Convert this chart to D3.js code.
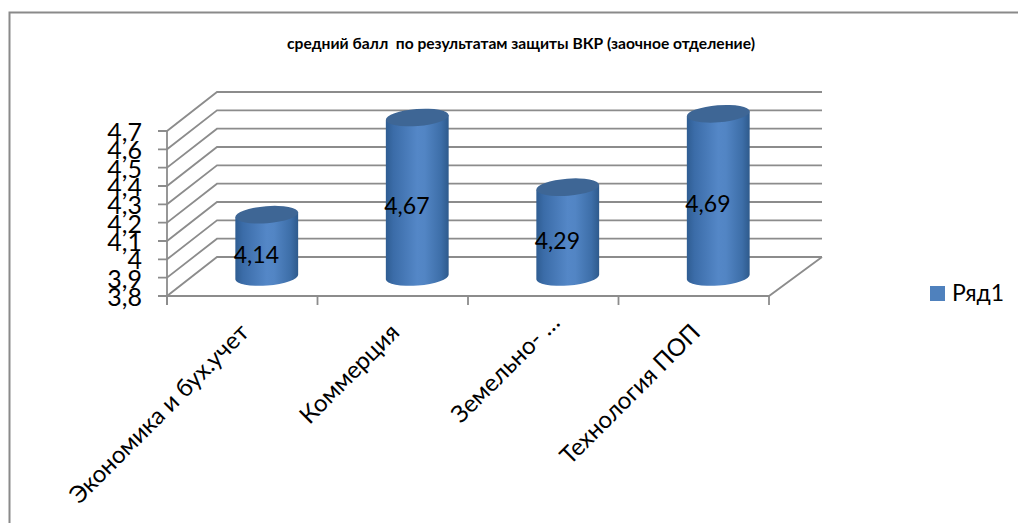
<!DOCTYPE html>
<html><head><meta charset="utf-8">
<script src="https://cdn.jsdelivr.net/npm/d3@7/dist/d3.min.js"></script>
<style>html,body{margin:0;padding:0;background:#fff}svg{display:block}text{font-family:Lato,"Open Sans",sans-serif;fill:#000}</style>
</head><body><div id="c"></div>
<script>
const categories=["Экономика и бух.учет","Коммерция","Земельно- …","Технология ПОП"];
const seriesName="Ряд1";
const values=[4.14,4.67,4.29,4.69];
const valueLabels=["4,14","4,67","4,29","4,69"];
const yTicks=[3.8,3.9,4,4.1,4.2,4.3,4.4,4.5,4.6,4.7];
const yTickLabels=["3,8","3,9","4","4,1","4,2","4,3","4,4","4,5","4,6","4,7"];
const titleText="средний балл  по результатам защиты ВКР (заочное отделение)";

const W=1018,H=523,depthX=50,depthY=-39,grid="#8c8c8c";
const svg=d3.select("#c").append("svg").attr("width",W).attr("height",H);
const x=d3.scaleBand().domain(categories).range([167,769]);
const y=d3.scaleLinear().domain([3.8,4.7]).range([296,131]);

const defs=svg.append("defs");
const g=defs.append("linearGradient").attr("id","cyl");
[[0,"#2f5d92"],[.12,"#3b6ca8"],[.5,"#5487c7"],[.62,"#5285c4"],[.88,"#3d6ea8"],[1,"#2e5a8c"]]
 .forEach(d=>g.append("stop").attr("offset",d[0]).attr("stop-color",d[1]));

// frame
svg.append("path").attr("d",`M9.5,${H}V12.5H${W}`).attr("fill","none").attr("stroke","#8a8a8a").attr("stroke-width",2);

// title
svg.append("text").attr("x",521).attr("y",49).attr("text-anchor","middle").attr("font-size",15.6)
 .attr("font-weight",700).style("white-space","pre").text(titleText);

// walls
const xL=x.range()[0],xR=x.range()[1];
const wall=svg.append("g").attr("fill","none").attr("stroke",grid).attr("stroke-width",1.8);
yTicks.forEach(t=>{
  wall.append("path").attr("d",`M${xL-9},${y(t)}H${xL}L${xL+depthX},${y(t)+depthY}H${xR+depthX+3}`);
});
wall.append("path").attr("d",`M${xL},${y(4.7)}V${y(3.8)+9}`);
wall.append("path").attr("d",`M${xL},${y(3.8)}H${xR}L${xR+depthX+3},${y(3.8)+depthY}`);
[...categories.map(c=>x(c)),xR].forEach(px=>wall.append("path").attr("d",`M${px},${y(3.8)}V${y(3.8)+9}`));

// y labels
svg.append("g").selectAll("text").data(yTicks).join("text")
 .attr("x",142).attr("y",d=>y(d)+10).attr("text-anchor","end").attr("font-size",25)
 .text((d,i)=>yTickLabels[i]);

// cylinders
const rx=31.5,ry=8.5,tilt=-4.5;
const tan=Math.sin(tilt*Math.PI/180)*rx;
const bars=svg.append("g").selectAll("g").data(categories).join("g");
bars.each(function(c,i){
  const s=d3.select(this),cx=x(c)+x.bandwidth()/2+24.5;
  const yb=y(3.8)-19,yt=y(values[i])-19;
  const hx=rx*Math.cos(tilt*Math.PI/180);
  s.append("path").attr("fill","url(#cyl)")
   .attr("d",`M${cx-hx},${yt-tan}L${cx-hx},${yb-tan}A${rx},${ry} ${tilt} 0 0 ${cx+hx},${yb+tan}L${cx+hx},${yt+tan}Z`);
  s.append("ellipse").attr("cx",cx).attr("cy",yt).attr("rx",rx).attr("ry",ry)
   .attr("transform",`rotate(${tilt} ${cx} ${yt})`).attr("fill","#3e6695");
  s.append("text").attr("x",cx-33).attr("y",y(values[i])/2+y(3.8)/2-2).attr("font-size",23).text(valueLabels[i]);
});

// category labels
svg.append("g").selectAll("text").data(categories).join("text")
 .attr("text-anchor","end").attr("font-size",24)
 .attr("dx",(c,i)=>i===2?14:0)
 .attr("transform",c=>`translate(${x(c)+x.bandwidth()/2+8},${334}) rotate(-45)`)
 .text(c=>c);

// legend
svg.append("rect").attr("x",930).attr("y",286).attr("width",15).attr("height",15).attr("fill","#4f81bd");
svg.append("text").attr("x",952).attr("y",301).attr("font-size",23).text(seriesName);
</script></body></html>
